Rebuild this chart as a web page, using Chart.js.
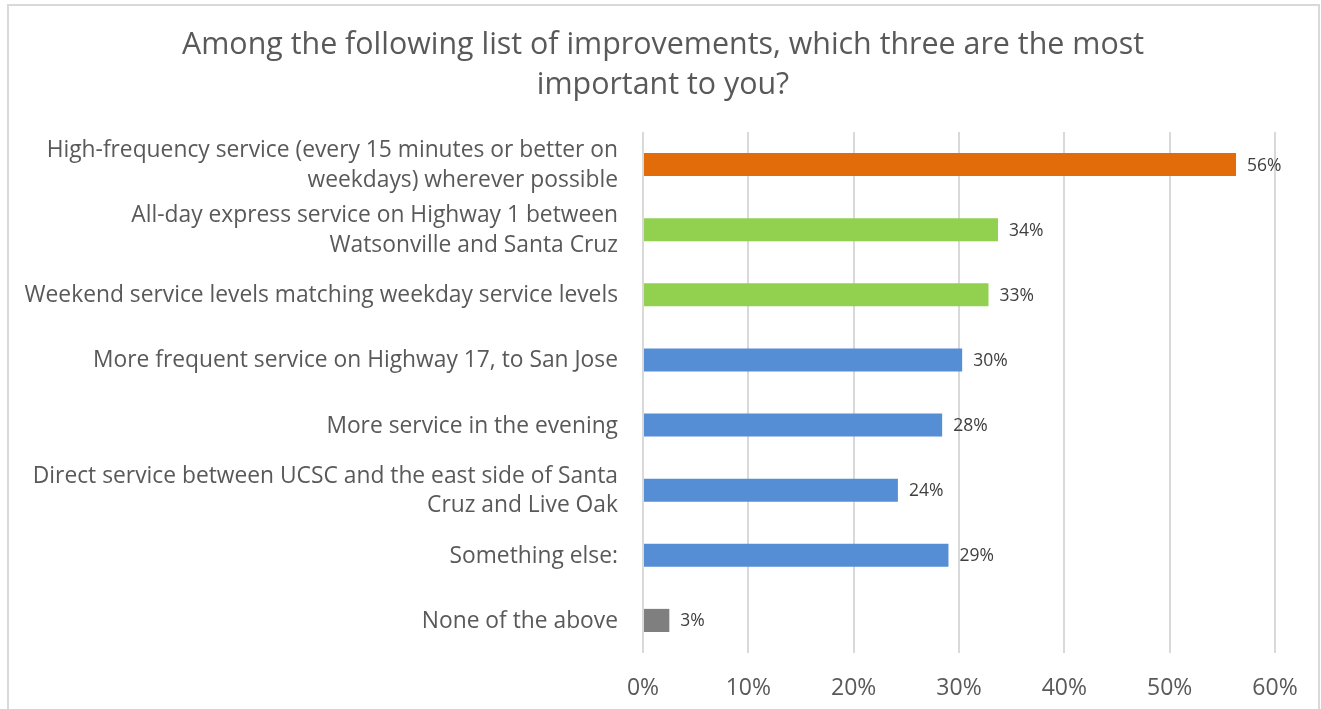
<!DOCTYPE html>
<html>
<head>
<meta charset="utf-8">
<script src="https://cdn.jsdelivr.net/npm/chart.js@4"></script>
<style>
  html, body { margin: 0; padding: 0; background: #ffffff; overflow: hidden; }
  #wrap { position: relative; width: 1321px; height: 709px; overflow: hidden; }
  #frame { position: absolute; left: 7px; top: 4px; width: 1313px; height: 720px; border: 2px solid #d9d9d9; box-sizing: border-box; }
  canvas { position: absolute; left: 0; top: 0; }
</style>
</head>
<body>
<div id="wrap">
  <div id="frame"></div>
  <canvas id="c" width="1321" height="709"></canvas>
</div>
<script>
const titleLines = ["Among the following list of improvements, which three are the most", "important to you?"];
const categories = [
  ["High-frequency service (every 15 minutes or better on", "weekdays) wherever possible"],
  ["All-day express service on Highway 1 between", "Watsonville and Santa Cruz"],
  "Weekend service levels matching weekday service levels",
  "More frequent service on Highway 17, to San Jose",
  "More service in the evening",
  ["Direct service between UCSC and the east side of Santa", "Cruz and Live Oak"],
  "Something else:",
  "None of the above"
];
const values = [56.3, 33.7, 32.8, 30.3, 28.4, 24.2, 29.0, 2.5];
const barColors = ["#E36C0A", "#92D050", "#92D050", "#558ED5", "#558ED5", "#558ED5", "#558ED5", "#7F7F7F"];
const tickValues = [0, 10, 20, 30, 40, 50, 60];

const FONT = "'Open Sans', Lato, sans-serif";
const TEXT = "#595959";

const dataLabelPlugin = {
  id: 'dataLabels',
  afterDatasetsDraw(chart) {
    const ctx = chart.ctx;
    const meta = chart.getDatasetMeta(0);
    ctx.save();
    ctx.font = "17.5px " + FONT;
    ctx.fillStyle = "#404040";
    ctx.textAlign = "left";
    ctx.textBaseline = "middle";
    meta.data.forEach((bar, i) => {
      const v = chart.data.datasets[0].data[i];
      ctx.fillText(Math.round(v) + "%", bar.x + 11, bar.y + 1);
    });
    ctx.restore();
  }
};

// Title drawn centred on the frame (the chart's own title box is centred on the padded canvas)
const frameTitlePlugin = {
  id: 'frameTitle',
  afterDraw(chart) {
    const ctx = chart.ctx;
    ctx.save();
    ctx.font = "30.4px " + FONT;
    ctx.fillStyle = TEXT;
    ctx.textAlign = "center";
    ctx.textBaseline = "middle";
    const cx = 663;
    titleLines.forEach((line, i) => ctx.fillText(line, cx, 45 + i * 40));
    ctx.restore();
  }
};

new Chart(document.getElementById('c'), {
  type: 'bar',
  data: {
    labels: categories,
    datasets: [{
      data: values,
      backgroundColor: barColors,
      borderWidth: 0,
      categoryPercentage: 1,
      barPercentage: 0.355
    }]
  },
  options: {
    indexAxis: 'y',
    responsive: false,
    animation: false,
    devicePixelRatio: 1,
    layout: { padding: { left: 0, right: 46, top: 132, bottom: 0 } },
    plugins: {
      legend: { display: false },
      tooltip: { enabled: false },
      title: { display: false }
    },
    scales: {
      x: {
        min: 0, max: 60,
        afterBuildTicks(scale) { scale.ticks = tickValues.map(v => ({ value: v })); },
        ticks: {
          color: TEXT,
          font: { family: FONT, size: 23 },
          padding: 22,
          callback: v => v + "%"
        },
        grid: { color: "#d9d9d9", lineWidth: 2, drawTicks: false },
        border: { display: false },
        afterFit(scale) { scale.height = 56; }
      },
      y: {
        ticks: {
          color: TEXT,
          font: { family: FONT, size: 22.8, lineHeight: 1.3 },
          padding: 17,
          labelOffset: 1
        },
        grid: { display: false },
        border: { display: false },
        afterFit(scale) { scale.width = 643; }
      }
    }
  },
  plugins: [dataLabelPlugin, frameTitlePlugin]
});
</script>
</body>
</html>
